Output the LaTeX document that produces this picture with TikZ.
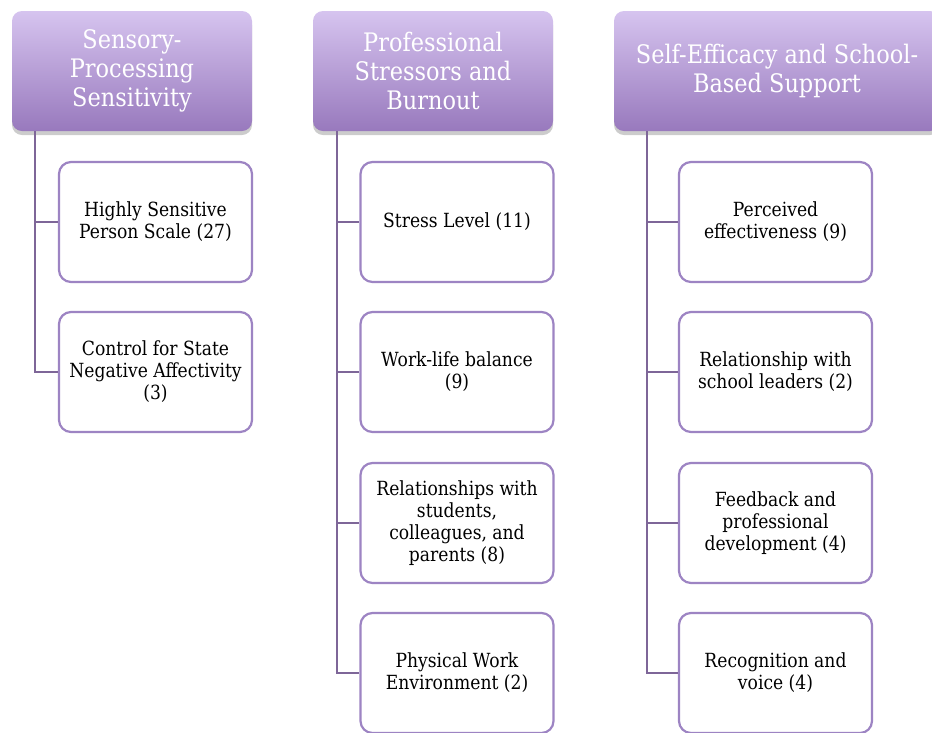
\documentclass[tikz,border=0pt]{standalone}
\usepackage{fontspec}
\setmainfont[FakeStretch=0.88]{DejaVu Serif}
\usetikzlibrary{shadows}
\definecolor{hdrtop}{RGB}{214,196,239}
\definecolor{hdrbot}{RGB}{152,121,189}
\definecolor{boxborder}{RGB}{157,132,195}
\definecolor{lineclr}{RGB}{126,102,152}
\tikzset{
  hdr/.style={rectangle, rounded corners=10pt, minimum height=120pt, inner sep=0pt,
    top color=hdrtop, bottom color=hdrbot, draw=none, text=white, align=center,
    font=\fontsize{25.5}{29}\selectfont,
    drop shadow={shadow xshift=0pt, shadow yshift=-4pt, opacity=0.2, fill=black}},
  childbox/.style={rectangle, rounded corners=12pt, minimum width=193pt, minimum height=120pt,
    inner sep=0pt, draw=boxborder, line width=2.2pt, fill=white, text=black, align=center,
    font=\fontsize{19.5}{22}\selectfont},
  conn/.style={draw=lineclr, line width=2.6pt}
}
\begin{document}
\begin{tikzpicture}[x=1pt,y=-1pt]
\useasboundingbox (0,0) rectangle (932,732);
\fill[white] (0,0) rectangle (932,732);
% headers
\node[hdr, minimum width=240pt] (h1) at (132,71) {Sensory-\\Processing\\Sensitivity};
\node[hdr, minimum width=240pt] (h2) at (433,71) {Professional\\Stressors and\\Burnout};
\node[hdr, minimum width=326pt] (h3) at (777,71) {Self-Efficacy and School-\\Based Support};
% column 1
\node[childbox] (a1) at (155.5,222) {Highly Sensitive\\Person Scale (27)};
\node[childbox] (a2) at (155.5,372) {Control for State\\Negative Affectivity\\(3)};
% column 2
\node[childbox] (b1) at (457,222) {Stress Level (11)};
\node[childbox] (b2) at (457,372) {Work-life balance\\(9)};
\node[childbox] (b3) at (457,523) {Relationships with\\students,\\colleagues, and\\parents (8)};
\node[childbox] (b4) at (457,673) {Physical Work\\Environment (2)};
% column 3
\node[childbox] (c1) at (775.5,222) {Perceived\\effectiveness (9)};
\node[childbox] (c2) at (775.5,372) {Relationship with\\school leaders (2)};
\node[childbox] (c3) at (775.5,523) {Feedback and\\professional\\development (4)};
\node[childbox] (c4) at (775.5,673) {Recognition and\\voice (4)};
% connectors
\foreach \n in {a1,a2} \draw[conn] ([xshift=23pt]h1.south west) |- (\n.west);
\foreach \n in {b1,b2,b3,b4} \draw[conn] ([xshift=24pt]h2.south west) |- (\n.west);
\foreach \n in {c1,c2,c3,c4} \draw[conn] ([xshift=33pt]h3.south west) |- (\n.west);
\end{tikzpicture}
\end{document}
